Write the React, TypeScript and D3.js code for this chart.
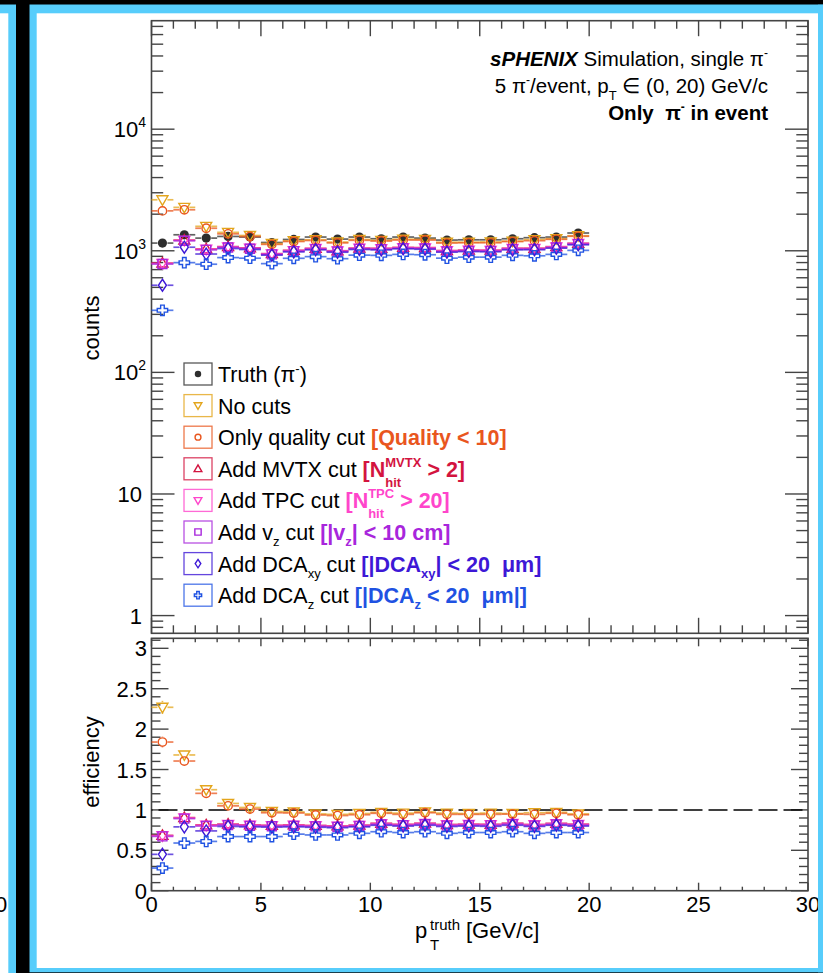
import React, { useRef, useEffect } from 'react';
import * as d3 from 'd3';

// pT bins, 1 GeV/c wide
const ptBinCenters = [0.5, 1.5, 2.5, 3.5, 4.5, 5.5, 6.5, 7.5, 8.5, 9.5, 10.5, 11.5, 12.5, 13.5, 14.5, 15.5, 16.5, 17.5, 18.5, 19.5];
const binHalfWidth = 0.5;

// truth pi- counts per bin
const truthCounts = [1157, 1354, 1271, 1312, 1297, 1170, 1239, 1297, 1248, 1297, 1256, 1297, 1271, 1225, 1231, 1231, 1256, 1281, 1297, 1400];

// efficiency (reco / truth) for each cut stage
const effNoCuts = [2.27, 1.68, 1.25, 1.08, 1.03, 0.98, 0.975, 0.95, 0.945, 0.955, 0.97, 0.96, 0.975, 0.96, 0.955, 0.96, 0.955, 0.965, 0.97, 0.95];
const effQuality = [1.84, 1.605, 1.205, 1.05, 1.01, 0.965, 0.962, 0.937, 0.93, 0.94, 0.958, 0.945, 0.965, 0.945, 0.945, 0.945, 0.948, 0.945, 0.958, 0.94];
const effMvtx = [0.685, 0.905, 0.815, 0.825, 0.815, 0.81, 0.815, 0.808, 0.802, 0.812, 0.835, 0.822, 0.836, 0.82, 0.824, 0.822, 0.836, 0.82, 0.834, 0.824];
const effTpc = [0.68, 0.9, 0.81, 0.82, 0.81, 0.806, 0.81, 0.804, 0.798, 0.808, 0.83, 0.818, 0.832, 0.816, 0.82, 0.818, 0.832, 0.816, 0.83, 0.82];
const effVz = [0.672, 0.892, 0.8, 0.812, 0.802, 0.798, 0.802, 0.796, 0.79, 0.8, 0.82, 0.81, 0.822, 0.806, 0.81, 0.808, 0.822, 0.806, 0.82, 0.81];
const effDcaXY = [0.45, 0.79, 0.74, 0.795, 0.79, 0.787, 0.79, 0.785, 0.78, 0.79, 0.81, 0.8, 0.81, 0.795, 0.8, 0.797, 0.81, 0.796, 0.81, 0.8];
const effDcaZ = [0.28, 0.59, 0.61, 0.67, 0.67, 0.67, 0.7, 0.69, 0.69, 0.71, 0.73, 0.72, 0.73, 0.71, 0.72, 0.72, 0.73, 0.71, 0.72, 0.72];

// axis ticks
const xMajorTicks = [0, 5, 10, 15, 20, 25, 30];
const countsMajorTicks = [1, 10, 100, 1000, 10000];
const effMajorTicks = [0, 0.5, 1, 1.5, 2, 2.5, 3];

const FONT = '"Liberation Sans", Arial, Helvetica, sans-serif';
const BLUE = '#57cdfb';

type Seg = { t: string; bold?: boolean; italic?: boolean; fill?: string; size?: number; dy?: number; back?: boolean };

const C = {
  truth: '#2e2e2e',
  noCuts: '#e3a51c',
  quality: '#e9561e',
  mvtx: '#d3143f',
  tpc: '#ff45cb',
  vz: '#a826dc',
  dcaXY: '#3d18d6',
  dcaZ: '#1f52e2',
};

const series = [
  { key: 'truth', color: C.truth, marker: 'dot', eff: null as number[] | null,
    label: [{ t: 'Truth (π' }, { t: '-', size: 13, dy: -9 }, { t: ')' }] as Seg[] },
  { key: 'noCuts', color: C.noCuts, marker: 'tridown', eff: effNoCuts,
    label: [{ t: 'No cuts' }] as Seg[] },
  { key: 'quality', color: C.quality, marker: 'circle', eff: effQuality,
    label: [{ t: 'Only quality cut ' }, { t: '[Quality < 10]', bold: true, fill: C.quality }] as Seg[] },
  { key: 'mvtx', color: C.mvtx, marker: 'triup', eff: effMvtx,
    label: [{ t: 'Add MVTX cut ' }, { t: '[N', bold: true, fill: C.mvtx },
      { t: 'hit', bold: true, fill: C.mvtx, size: 13, dy: 10 },
      { t: 'MVTX', bold: true, fill: C.mvtx, size: 13, dy: -10, back: true },
      { t: ' > 2]', bold: true, fill: C.mvtx }] as Seg[] },
  { key: 'tpc', color: C.tpc, marker: 'tridown', eff: effTpc,
    label: [{ t: 'Add TPC cut ' }, { t: '[N', bold: true, fill: C.tpc },
      { t: 'hit', bold: true, fill: C.tpc, size: 13, dy: 10 },
      { t: 'TPC', bold: true, fill: C.tpc, size: 13, dy: -10, back: true },
      { t: ' > 20]', bold: true, fill: C.tpc }] as Seg[] },
  { key: 'vz', color: C.vz, marker: 'square', eff: effVz,
    label: [{ t: 'Add v' }, { t: 'z', size: 13, dy: 6 }, { t: ' cut ' },
      { t: '[|v', bold: true, fill: C.vz }, { t: 'z', bold: true, fill: C.vz, size: 13, dy: 6 },
      { t: '| < 10 cm]', bold: true, fill: C.vz }] as Seg[] },
  { key: 'dcaXY', color: C.dcaXY, marker: 'diamond', eff: effDcaXY,
    label: [{ t: 'Add DCA' }, { t: 'xy', size: 13, dy: 6 }, { t: ' cut ' },
      { t: '[|DCA', bold: true, fill: C.dcaXY }, { t: 'xy', bold: true, fill: C.dcaXY, size: 13, dy: 6 },
      { t: '| < 20  μm]', bold: true, fill: C.dcaXY }] as Seg[] },
  { key: 'dcaZ', color: C.dcaZ, marker: 'cross', eff: effDcaZ,
    label: [{ t: 'Add DCA' }, { t: 'z', size: 13, dy: 6 }, { t: ' cut ' },
      { t: '[|DCA', bold: true, fill: C.dcaZ }, { t: 'z', bold: true, fill: C.dcaZ, size: 13, dy: 6 },
      { t: ' < 20  μm|]', bold: true, fill: C.dcaZ }] as Seg[] },
];

function addRich(sel: any, x: number, y: number, segs: Seg[], size: number, anchor = 'start') {
  const text = sel.append('text')
    .attr('x', x).attr('y', y)
    .attr('font-size', size)
    .attr('text-anchor', anchor)
    .style('white-space', 'pre');
  let cur = 0;
  let prev: any = null;
  segs.forEach(s => {
    const off = s.dy ?? 0;
    const ts = text.append('tspan').text(s.t).attr('font-size', s.size ?? size);
    if (off !== cur) ts.attr('dy', off - cur);
    cur = off;
    if (s.bold) ts.attr('font-weight', 'bold');
    if (s.italic) ts.attr('font-style', 'italic');
    if (s.fill) ts.attr('fill', s.fill);
    if (s.back && prev) ts.attr('dx', -prev.node().getComputedTextLength());
    prev = ts;
  });
  return text;
}

function drawMarker(g: any, type: string, cx: number, cy: number, color: string, s = 1) {
  const sw = 1.4;
  if (type === 'dot') {
    g.append('circle').attr('cx', cx).attr('cy', cy).attr('r', 4.6 * s).attr('fill', color);
    return;
  }
  if (type === 'circle') {
    g.append('circle').attr('cx', cx).attr('cy', cy).attr('r', 4.2 * s)
      .attr('fill', 'none').attr('stroke', color).attr('stroke-width', sw);
    return;
  }
  let d = '';
  if (type === 'tridown') d = `M${cx - 5.5 * s},${cy - 4 * s}L${cx + 5.5 * s},${cy - 4 * s}L${cx},${cy + 5.5 * s}Z`;
  if (type === 'triup') d = `M${cx - 5.5 * s},${cy + 4 * s}L${cx + 5.5 * s},${cy + 4 * s}L${cx},${cy - 5.5 * s}Z`;
  if (type === 'square') d = `M${cx - 4.5 * s},${cy - 4.5 * s}h${9 * s}v${9 * s}h${-9 * s}Z`;
  if (type === 'diamond') d = `M${cx},${cy - 6 * s}L${cx + 4 * s},${cy}L${cx},${cy + 6 * s}L${cx - 4 * s},${cy}Z`;
  if (type === 'cross') {
    const a = 5.2 * s, w = 1.8 * s;
    d = `M${cx - w},${cy - a}H${cx + w}V${cy - w}H${cx + a}V${cy + w}H${cx + w}V${cy + a}H${cx - w}V${cy + w}H${cx - a}V${cy - w}H${cx - w}Z`;
  }
  g.append('path').attr('d', d).attr('fill', 'none').attr('stroke', color).attr('stroke-width', sw);
}

const App = () => {
  const svgRef = useRef<SVGSVGElement>(null);

  useEffect(() => {
    const svg = d3.select(svgRef.current);
    svg.selectAll('*').remove();
    svg.attr('font-family', FONT);

    // page frame (slide screenshot)
    svg.append('rect').attr('width', 823).attr('height', 973).attr('fill', '#000');
    svg.append('rect').attr('x', -10).attr('y', 4.3).attr('width', 26).attr('height', 980).attr('fill', BLUE);
    svg.append('rect').attr('x', -10).attr('y', 13.3).attr('width', 18.3).attr('height', 980).attr('fill', '#fff');
    svg.append('text').attr('x', -5).attr('y', 912).attr('font-size', 22).text('0');
    svg.append('rect').attr('x', 29.3).attr('y', 4.3).attr('width', 800).attr('height', 968).attr('fill', BLUE);
    svg.append('rect').attr('x', 36.7).attr('y', 13.3).attr('width', 790).attr('height', 954.7).attr('fill', '#fff');

    // pads
    const X0 = 151.5, X1 = 808;
    const UP_TOP = 20.7, UP_BOT = 633.3;
    const LO_TOP = 638.3, LO_BOT = 890.7;

    const x = d3.scaleLinear().domain([0, 30]).range([X0, X1]);
    const yCounts = d3.scaleLog().domain([0.715, 78000]).range([UP_BOT, UP_TOP]);
    const yEff = d3.scaleLinear().domain([0, 3.124]).range([LO_BOT, LO_TOP]);

    const axisColor = '#444';
    const g = svg.append('g');

    // frames
    [[UP_TOP, UP_BOT], [LO_TOP, LO_BOT]].forEach(([t, b]) => {
      g.append('rect').attr('x', X0).attr('y', t).attr('width', X1 - X0).attr('height', b - t)
        .attr('fill', 'none').attr('stroke', axisColor).attr('stroke-width', 1.6);
    });

    const tick = (x1: number, y1: number, x2: number, y2: number) =>
      g.append('line').attr('x1', x1).attr('y1', y1).attr('x2', x2).attr('y2', y2)
        .attr('stroke', axisColor).attr('stroke-width', 1.4);

    // x ticks on both pads
    x.ticks(30).forEach(v => {
      const major = xMajorTicks.includes(v);
      const px = x(v);
      const lu = major ? 15.5 : 8;
      tick(px, UP_BOT, px, UP_BOT - lu);
      tick(px, UP_TOP, px, UP_TOP + lu);
      const ll = major ? 8 : 4;
      tick(px, LO_BOT, px, LO_BOT - ll);
      tick(px, LO_TOP, px, LO_TOP + ll);
    });

    // log ticks, upper pad
    yCounts.ticks().filter(v => v >= 0.715 && v <= 78000).forEach(v => {
      const major = countsMajorTicks.includes(v);
      const py = yCounts(v);
      const len = major ? 23 : 11.7;
      tick(X0, py, X0 + len, py);
      tick(X1, py, X1 - len, py);
    });

    // linear ticks, lower pad
    yEff.ticks(31).forEach(v => {
      const major = effMajorTicks.some(m => Math.abs(m - v) < 1e-6);
      const py = yEff(v);
      const len = major ? 17 : 9;
      tick(X0, py, X0 + len, py);
      tick(X1, py, X1 - len, py);
    });

    // tick labels
    const labels = svg.append('g').attr('font-size', 22).attr('fill', '#000');
    xMajorTicks.forEach(v => {
      labels.append('text').attr('x', x(v)).attr('y', 912).attr('text-anchor', 'middle').text(String(v));
    });
    countsMajorTicks.forEach(v => {
      const py = yCounts(v) + 8;
      if (v < 100) {
        labels.append('text').attr('x', 142).attr('y', py).attr('text-anchor', 'end').text(String(v));
      } else {
        addRich(labels, 146, py, [{ t: '10' }, { t: String(Math.round(Math.log10(v))), size: 14, dy: -10 }], 22, 'end');
      }
    });
    effMajorTicks.forEach(v => {
      labels.append('text').attr('x', 147).attr('y', yEff(v) + 8).attr('text-anchor', 'end').text(d3.format('~g')(v));
    });

    // axis titles
    labels.append('text').attr('transform', 'translate(99,328) rotate(-90)')
      .attr('text-anchor', 'middle').text('counts');
    labels.append('text').attr('transform', 'translate(99,762) rotate(-90)')
      .attr('text-anchor', 'middle').text('efficiency');
    const xt = labels.append('text').attr('font-size', 22);
    xt.append('tspan').attr('x', 415).attr('y', 938).text('p');
    xt.append('tspan').attr('x', 430).attr('y', 930).attr('font-size', 15).text('truth');
    xt.append('tspan').attr('x', 430).attr('y', 950).attr('font-size', 15).text('T');
    xt.append('tspan').attr('x', 466).attr('y', 938).text('[GeV/c]');

    // reference line at efficiency 1
    g.append('line').attr('x1', X0).attr('x2', X1).attr('y1', yEff(1)).attr('y2', yEff(1))
      .attr('stroke', '#000').attr('stroke-width', 1.5).attr('stroke-dasharray', '19,6')
      .attr('stroke-dashoffset', -7);

    // data
    const drawSeries = (pad: any, vals: number[], errs: number[], y: any, color: string, marker: string) => {
      const sg = pad.append('g');
      const gap = 5;
      vals.forEach((v, i) => {
        const cx = x(ptBinCenters[i]);
        const cy = y(v);
        const xl = x(ptBinCenters[i] - binHalfWidth), xr = x(ptBinCenters[i] + binHalfWidth);
        const line = (a: number, b: number, c: number, d: number) =>
          sg.append('line').attr('x1', a).attr('y1', b).attr('x2', c).attr('y2', d)
            .attr('stroke', color).attr('stroke-width', 1.7).attr('stroke-opacity', 0.75);
        line(xl, cy, cx - gap, cy);
        line(cx + gap, cy, xr, cy);
        const yt = y(v + errs[i]), yb = y(v - errs[i]);
        if (cy - yt > gap) line(cx, yt, cx, cy - gap);
        if (yb - cy > gap) line(cx, cy + gap, cx, yb);
        drawMarker(sg, marker, cx, cy, color);
      });
    };

    const up = g.append('g');
    const lo = g.append('g');
    series.forEach(s => {
      if (!s.eff) {
        drawSeries(up, truthCounts, truthCounts.map(n => Math.sqrt(n)), yCounts, s.color, s.marker);
        return;
      }
      const counts = truthCounts.map((n, i) => n * s.eff![i]);
      drawSeries(up, counts, counts.map(n => Math.sqrt(n)), yCounts, s.color, s.marker);
      const effErr = s.eff.map((e, i) => e * Math.sqrt(1 / counts[i] + 1 / truthCounts[i]));
      drawSeries(lo, s.eff, effErr, yEff, s.color, s.marker);
    });

    // legend
    const leg = svg.append('g').attr('font-size', 21.5);
    series.forEach((s, i) => {
      const cy = 374 + i * 31.6;
      leg.append('rect').attr('x', 184).attr('y', cy - 11).attr('width', 28).attr('height', 22)
        .attr('fill', 'none').attr('stroke', s.color).attr('stroke-opacity', 0.8).attr('stroke-width', 1.3);
      drawMarker(leg, s.marker, 198, cy, s.color, 0.7);
      addRich(leg, 218, cy + 8, s.label, 21.5);
    });

    // header text
    const hdr = svg.append('g').attr('font-size', 20.5);
    addRich(hdr, 768, 66, [{ t: 'sPHENIX', bold: true, italic: true }, { t: ' Simulation, single π' }, { t: '-', size: 12, dy: -9 }], 20.5, 'end');
    addRich(hdr, 768, 93, [{ t: '5 π' }, { t: '-', size: 12, dy: -9 }, { t: '/event, p' }, { t: 'T', size: 13, dy: 7 }, { t: ' ∈ (0, 20) GeV/c' }], 20.5, 'end');
    addRich(hdr, 768, 120, [{ t: 'Only  π', bold: true }, { t: '-', bold: true, size: 12, dy: -9 }, { t: ' in event', bold: true }], 20.5, 'end');

    // right border drawn over overflowing label
    svg.append('rect').attr('x', 818).attr('y', 4.3).attr('width', 10).attr('height', 968).attr('fill', BLUE);
    svg.append('rect').attr('x', 16).attr('y', 0).attr('width', 13.3).attr('height', 973).attr('fill', '#000');
    svg.append('rect').attr('x', 0).attr('y', 0).attr('width', 823).attr('height', 4.3).attr('fill', '#000');
  }, []);

  return (
    <svg ref={svgRef} width={823} height={973} style={{ position: 'absolute', left: 0, top: 0, display: 'block' }}></svg>
  );
};

export default App;
